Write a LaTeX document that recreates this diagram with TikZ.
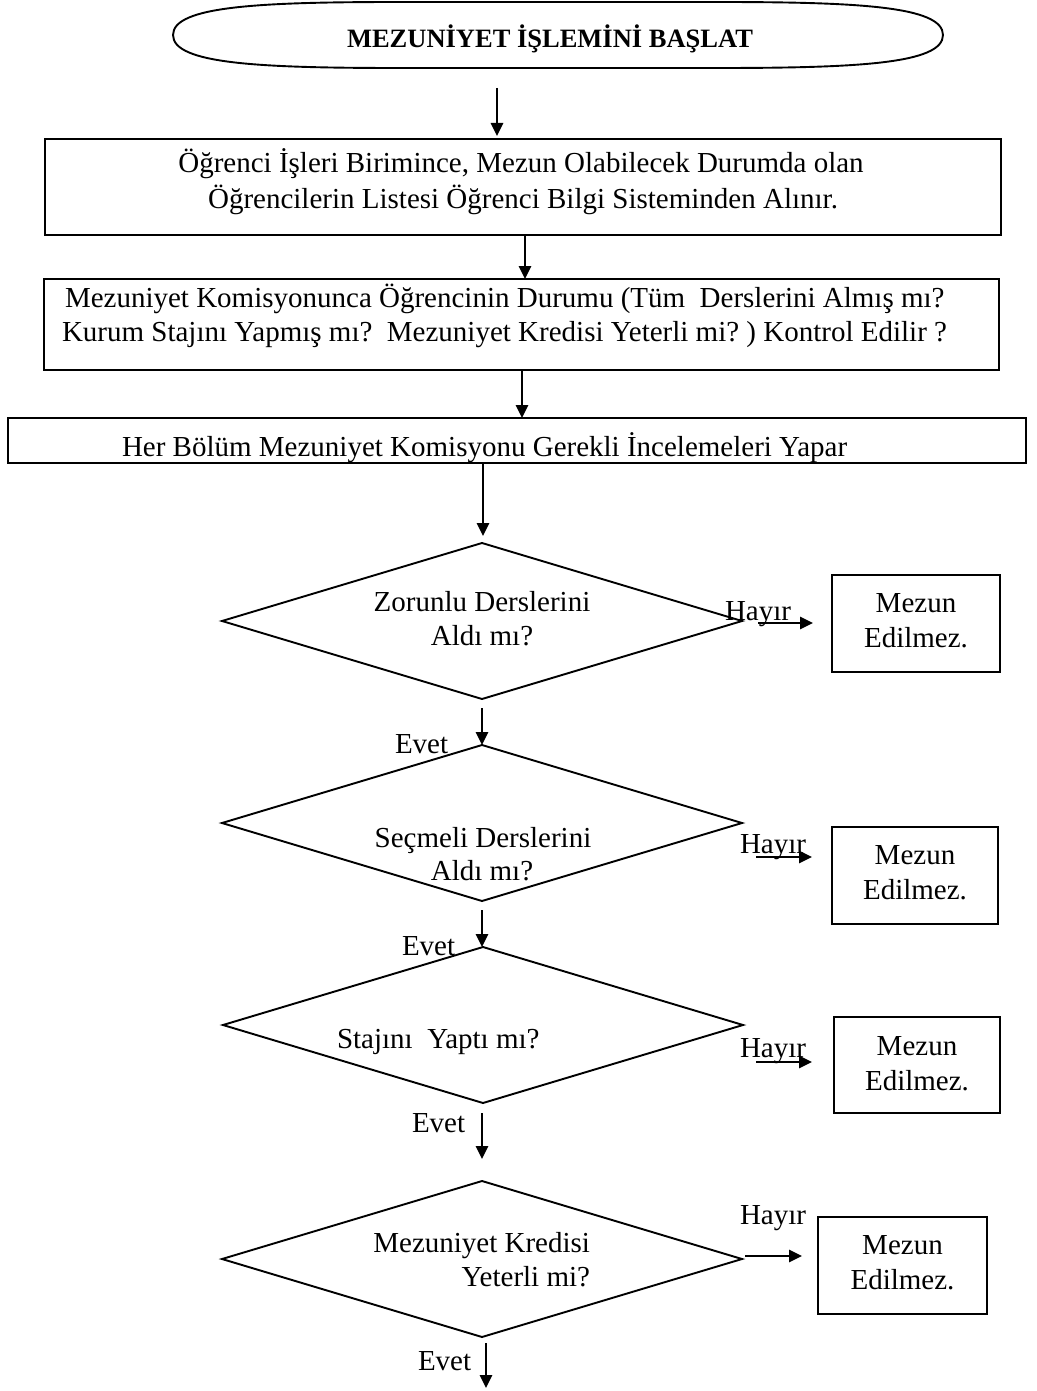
\documentclass[tikz,border=0pt]{standalone}
\usepackage{fontspec}
\setmainfont{Liberation Serif}
\usetikzlibrary{shapes.geometric,arrows.meta,calc}
\frenchspacing
\begin{document}
\begin{tikzpicture}[x=1pt,y=-1pt,
  txt/.style={inner sep=0pt,outer sep=0pt,anchor=base,font=\fontsize{29}{35}\selectfont},
  procbox/.style={draw,line width=2.1pt,inner sep=0pt,outer sep=0pt},
  decision/.style={draw,diamond,line width=1.9pt,inner sep=0pt,outer sep=0pt,
    minimum width=520pt,minimum height=156pt},
  endbox/.style={draw,line width=2.1pt,inner sep=0pt,outer sep=0pt},
  arr/.style={line width=2.7pt,-{Triangle[length=13pt,width=12pt]}}]
\useasboundingbox (0,0) rectangle (1036,1391);

% start terminator
\node[inner sep=0pt,outer sep=0pt,minimum width=770pt,minimum height=66pt] (start) at (558,35) {};
\draw[line width=1.9pt]
  (start.west) .. controls ($(start.west)+(0,-29)$) and ($(start.north west)+(87,0)$) .. ($(start.north west)+(227,0)$)
  -- ($(start.north east)+(-227,0)$)
  .. controls ($(start.north east)+(-87,0)$) and ($(start.east)+(0,-29)$) .. (start.east)
  .. controls ($(start.east)+(0,29)$) and ($(start.south east)+(-87,0)$) .. ($(start.south east)+(-227,0)$)
  -- ($(start.south west)+(227,0)$)
  .. controls ($(start.south west)+(87,0)$) and ($(start.west)+(0,29)$) .. (start.west) -- cycle;
\node[txt,font=\bfseries\fontsize{26.5}{30}\selectfont] (title) at (550,48) {MEZUNİYET İŞLEMİNİ BAŞLAT};

% process boxes
\node[procbox,minimum width=956pt,minimum height=96pt] (b1) at (523,187) {};
\node[txt] (b1a) at (521,173) {Öğrenci İşleri Birimince, Mezun Olabilecek Durumda olan};
\node[txt] (b1b) at (523,208) {Öğrencilerin Listesi Öğrenci Bilgi Sisteminden Alınır.};

\node[procbox,minimum width=955pt,minimum height=91pt] (b2) at (521.5,324.5) {};
\node[txt,anchor=base west] (b2a) at (65,307) {Mezuniyet Komisyonunca Öğrencinin Durumu (Tüm\ \ Derslerini Almış mı?};
\node[txt,anchor=base west] (b2b) at (62,341) {Kurum Stajını Yapmış mı?\ \ Mezuniyet Kredisi Yeterli mi? ) Kontrol Edilir ?};

\node[procbox,minimum width=1018pt,minimum height=45pt] (b3) at (517,440.5) {};
\node[txt,anchor=base west] (b3a) at (122,456) {Her Bölüm Mezuniyet Komisyonu Gerekli İncelemeleri Yapar};

% decisions
\node[decision] (d1) at (482,621) {};
\node[txt] (d1a) at (482,611) {Zorunlu Derslerini};
\node[txt] (d1b) at (482,645) {Aldı mı?};

\node[decision] (d2) at (482,823) {};
\node[txt] (d2a) at (483,847) {Seçmeli Derslerini};
\node[txt] (d2b) at (482,880) {Aldı mı?};

\node[decision] (d3) at (483,1025) {};
\node[txt,anchor=base west] (d3a) at (337,1048) {Stajını\ \ Yaptı mı?};

\node[decision] (d4) at (482,1259) {};
\node[txt,anchor=base east] (d4a) at (590,1252) {Mezuniyet Kredisi};
\node[txt,anchor=base east] (d4b) at (590,1286) {Yeterli mi?};

% rejection boxes
\node[endbox,minimum width=168pt,minimum height=97pt] (m1) at (916,623.5) {};
\node[txt] (m1a) at (916,612) {Mezun};
\node[txt] (m1b) at (916,647) {Edilmez.};

\node[endbox,minimum width=166pt,minimum height=97pt] (m2) at (915,875.5) {};
\node[txt] (m2a) at (915,864) {Mezun};
\node[txt] (m2b) at (915,899) {Edilmez.};

\node[endbox,minimum width=166pt,minimum height=96pt] (m3) at (917,1065) {};
\node[txt] (m3a) at (917,1055) {Mezun};
\node[txt] (m3b) at (917,1090) {Edilmez.};

\node[endbox,minimum width=169pt,minimum height=97pt] (m4) at (902.5,1265.5) {};
\node[txt] (m4a) at (902.5,1254) {Mezun};
\node[txt] (m4b) at (902.5,1289) {Edilmez.};

% branch labels
\node[txt,anchor=base west] (h1) at (725,620) {Hayır};
\node[txt,anchor=base west] (h2) at (740,853) {Hayır};
\node[txt,anchor=base west] (h3) at (740,1057) {Hayır};
\node[txt,anchor=base west] (h4) at (740,1224) {Hayır};

\node[txt,anchor=base west] (e1) at (395,753) {Evet};
\node[txt,anchor=base west] (e2) at (402,955) {Evet};
\node[txt,anchor=base west] (e3) at (412,1132) {Evet};
\node[txt,anchor=base west] (e4) at (418,1370) {Evet};

\coordinate (finish) at (486,1388);

% main flow
\draw[arr,shorten <=20pt,shorten >=3pt] ([xshift=-61pt]start.south) -- ([xshift=-26pt]b1.north);
\draw[arr] ([xshift=2pt]b1.south) -- ([xshift=3.5pt]b2.north);
\draw[arr] ([xshift=0.5pt]b2.south) -- ([xshift=5pt]b3.north);
\draw[arr,shorten >=7pt] ([xshift=-34pt]b3.south) -- ([xshift=1pt]d1.north);
\draw[arr,shorten <=9pt] (d1.south) -- (d2.north);
\draw[arr,shorten <=9pt] (d2.south) -- ([xshift=-1pt]d3.north);
\draw[arr,shorten <=10pt,shorten >=22pt] ([xshift=-1pt]d3.south) -- (d4.north);
\draw[arr,shorten <=6pt] ([xshift=4pt]d4.south) -- (finish);

% rejection branches
\draw[arr,shorten <=16pt,shorten >=19pt] ([yshift=-2pt]d1.east) -- ([yshift=-2pt]d1.east -| m1.west);
\draw[arr,shorten <=14pt,shorten >=20pt] ([yshift=-34pt]d2.east) -- ([yshift=-34pt]d2.east -| m2.west);
\draw[arr,shorten <=13pt,shorten >=22pt] ([yshift=-37pt]d3.east) -- ([yshift=-37pt]d3.east -| m3.west);
\draw[arr,shorten <=3pt,shorten >=16pt] ([yshift=3pt]d4.east) -- ([yshift=3pt]d4.east -| m4.west);
\end{tikzpicture}
\end{document}
